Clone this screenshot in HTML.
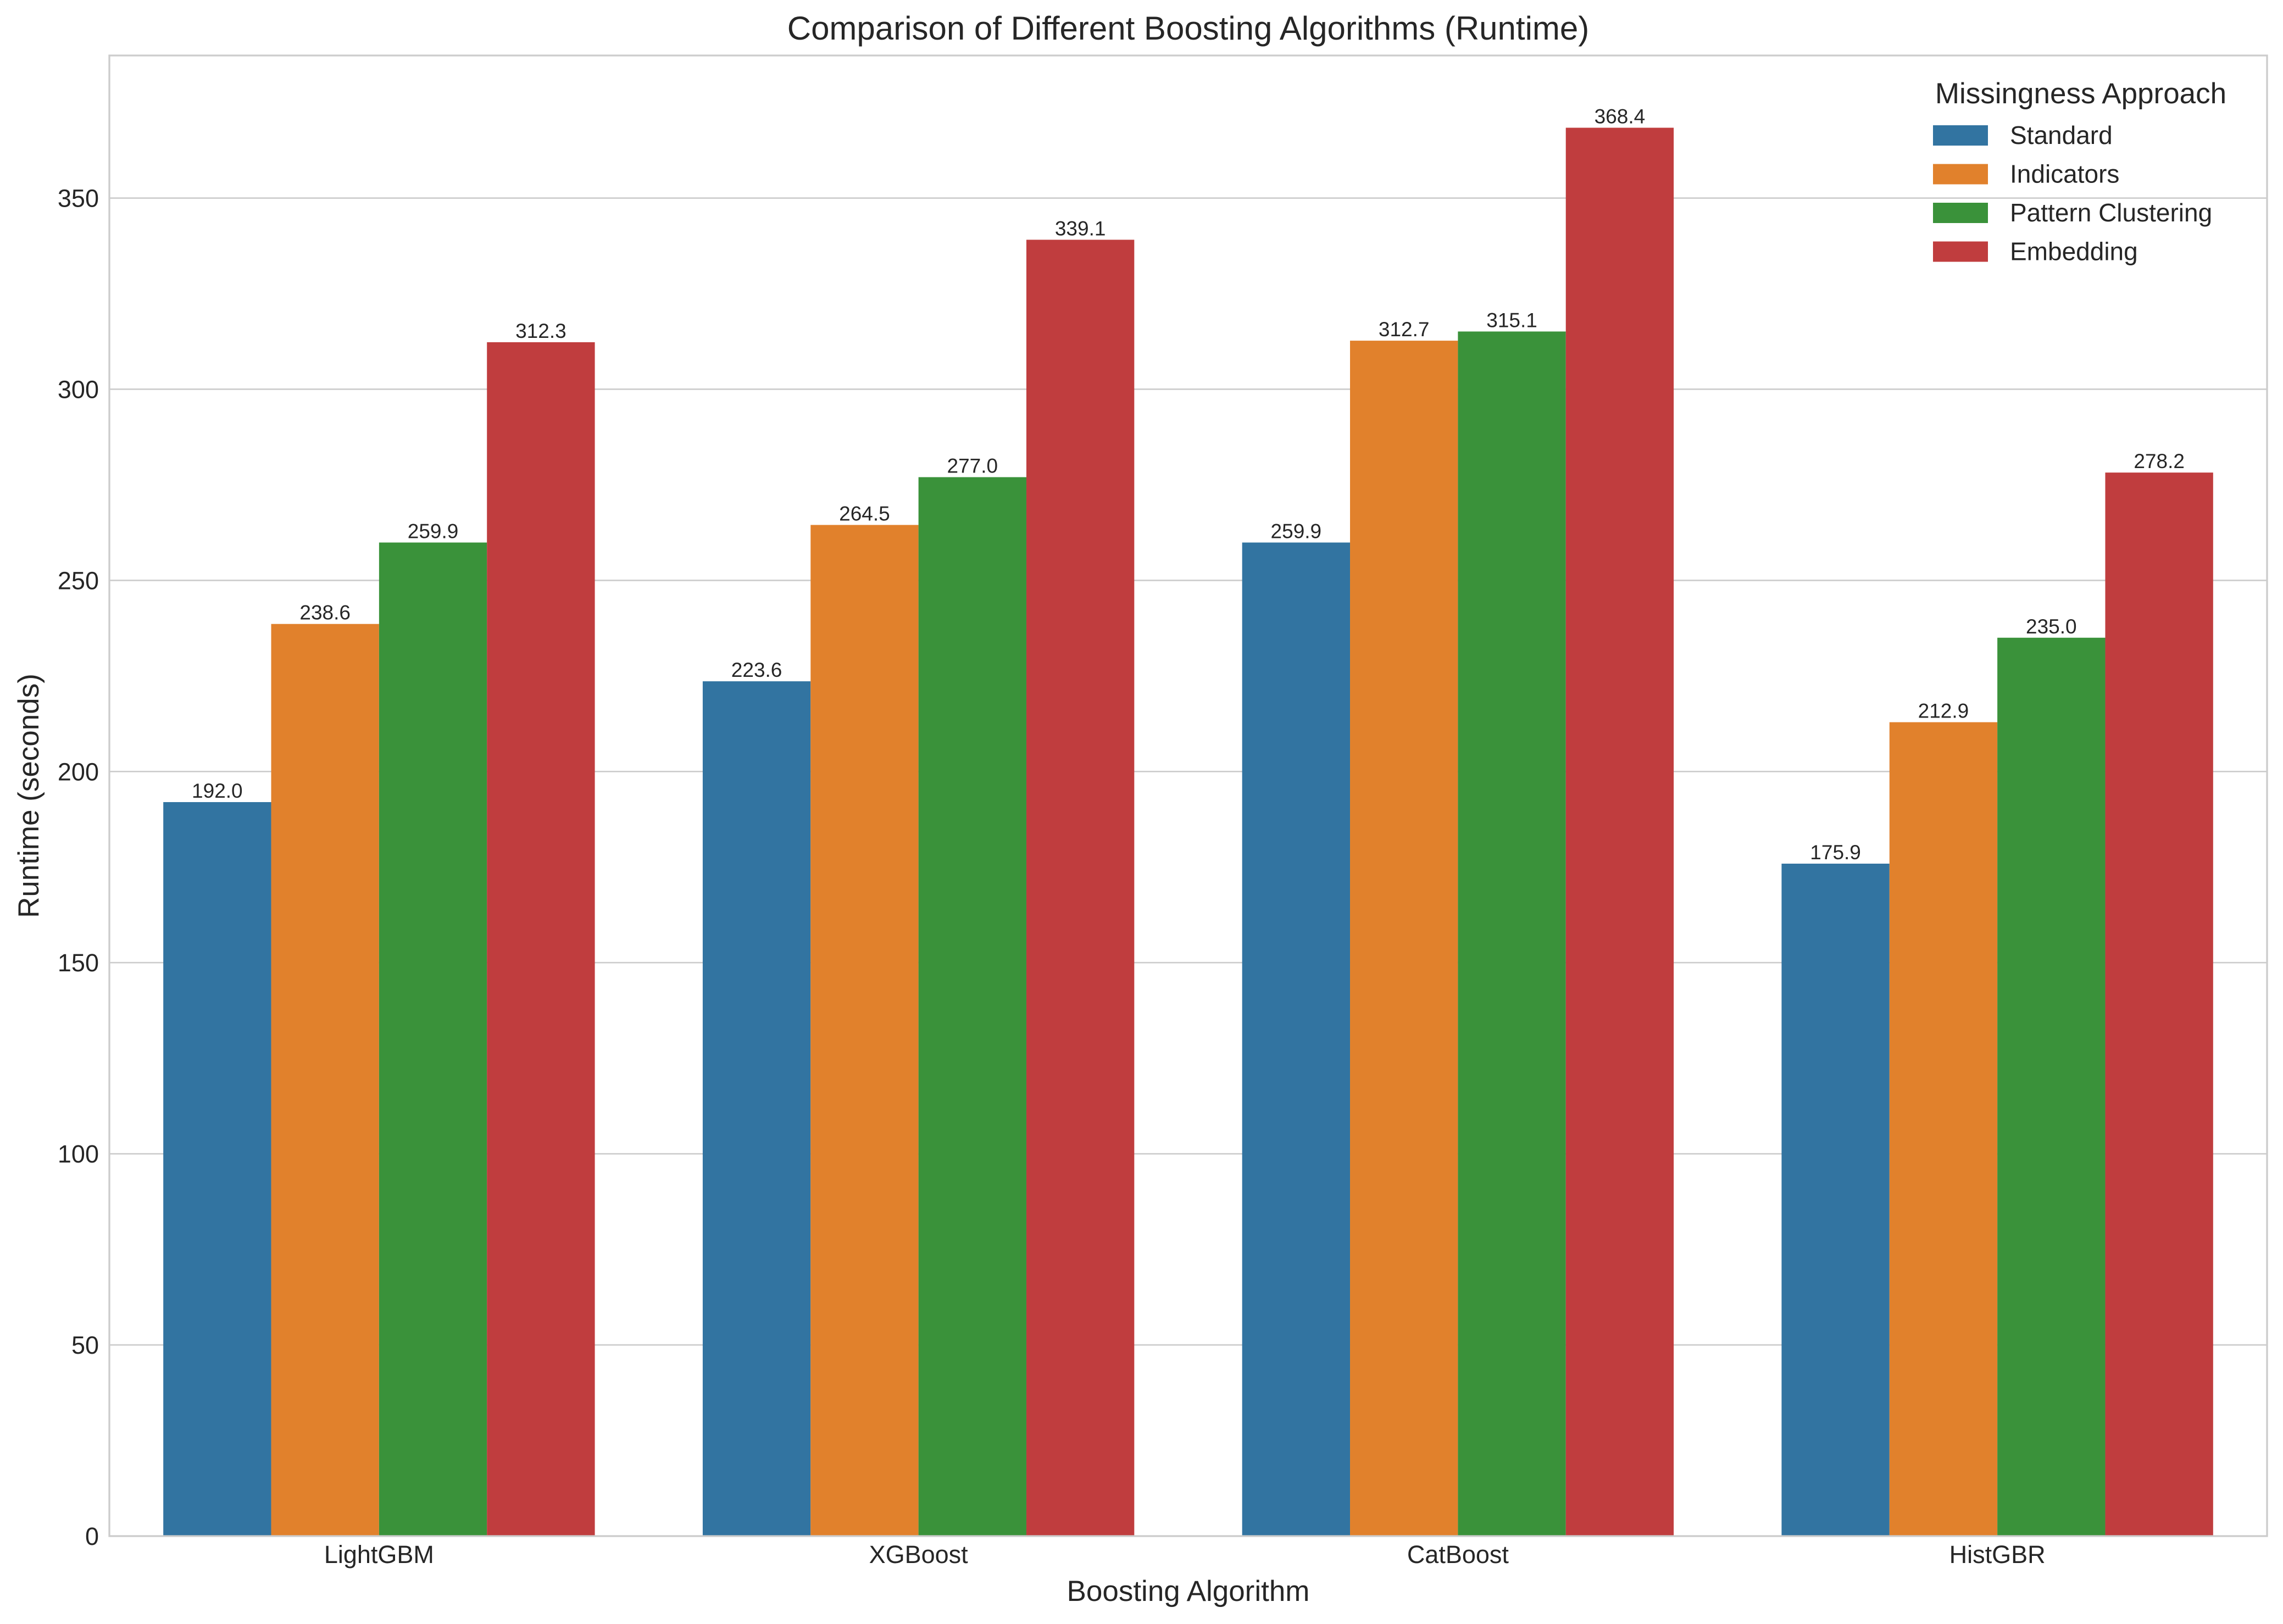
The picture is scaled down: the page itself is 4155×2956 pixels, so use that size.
<!DOCTYPE html>
<html><head><meta charset="utf-8"><style>
body{margin:0;background:#fff}
svg{display:block;font-family:"Liberation Sans",sans-serif}
</style></head><body>
<svg id="chart" width="4155" height="2956"></svg>
<script>
const categories=["LightGBM","XGBoost","CatBoost","HistGBR"];
const seriesNames=["Standard","Indicators","Pattern Clustering","Embedding"];
const standardValues=[192.0,223.6,259.9,175.9];
const indicatorsValues=[238.6,264.5,312.7,212.9];
const patternValues=[259.9,277.0,315.1,235.0];
const embeddingValues=[312.3,339.1,368.4,278.2];
const yTicks=[0,50,100,150,200,250,300,350];
const colors=["#3274a1","#e1812c","#3a923a","#c03d3e"];
const allSeries=[standardValues,indicatorsValues,patternValues,embeddingValues];

const L=199,R=4126,T=101,B=2796,yMax=387.3;
const ns="http://www.w3.org/2000/svg";
const svg=document.getElementById('chart');
function el(tag,attrs,parent){const e=document.createElementNS(ns,tag);for(const k in attrs)e.setAttribute(k,attrs[k]);(parent||svg).appendChild(e);return e;}
const yS=v=>B-(v/yMax)*(B-T);
const bandW=(R-L)/categories.length;
const xC=i=>L+bandW*(i+0.5);
const barW=bandW*0.8/seriesNames.length;

el('rect',{x:0,y:0,width:4155,height:2956,fill:'#fff'});
yTicks.forEach(t=>{
  const g=el('line',{x1:L,x2:R,y1:yS(t),y2:yS(t),stroke:'#cccccc','stroke-width':2.6});
  
  
  const tx=el('text',{x:180,y:yS(t)+16,'text-anchor':'end','font-size':45,fill:'#262626'});
  tx.textContent=t;
  
  
});
allSeries.forEach((vals,s)=>{
  vals.forEach((v,i)=>{
    const x=xC(i)-bandW*0.4+s*barW;
    const r=el('rect',{x:x,y:yS(v),width:barW,height:B-yS(v),fill:colors[s]});
    
    
    const t=el('text',{x:x+barW/2,y:yS(v)-8,'text-anchor':'middle','font-size':37,fill:'#262626'});
    t.textContent=v.toFixed(1);
    
    
  });
});
categories.forEach((c,i)=>{
  const t=el('text',{x:xC(i),y:2845,'text-anchor':'middle','font-size':45,fill:'#262626'});
  t.textContent=c;
  
  
});
const frame=el('rect',{x:L,y:T,width:R-L,height:B-T,fill:'none',stroke:'#cccccc','stroke-width':3.3});


const title=el('text',{x:(L+R)/2,y:72,'text-anchor':'middle','font-size':60,fill:'#262626'});
title.textContent="Comparison of Different Boosting Algorithms (Runtime)";


const xl=el('text',{x:(L+R)/2,y:2914,'text-anchor':'middle','font-size':53,fill:'#262626'});
xl.textContent="Boosting Algorithm";


const yl=el('text',{x:0,y:0,'text-anchor':'middle','font-size':53,fill:'#262626',transform:`translate(70,${(T+B)/2}) rotate(-90)`});
yl.textContent="Runtime (seconds)";


const lt=el('text',{x:3787,y:188,'text-anchor':'middle','font-size':53,fill:'#262626'});
lt.textContent="Missingness Approach";


seriesNames.forEach((n,s)=>{
  const cy=246+s*70.5;
  const p=el('rect',{x:3518,y:cy-18,width:100,height:37,fill:colors[s]});
  
  
  const t=el('text',{x:3658,y:cy+16,'font-size':46,fill:'#262626'});
  t.textContent=n;
  
  
});
</script>
</body></html>
